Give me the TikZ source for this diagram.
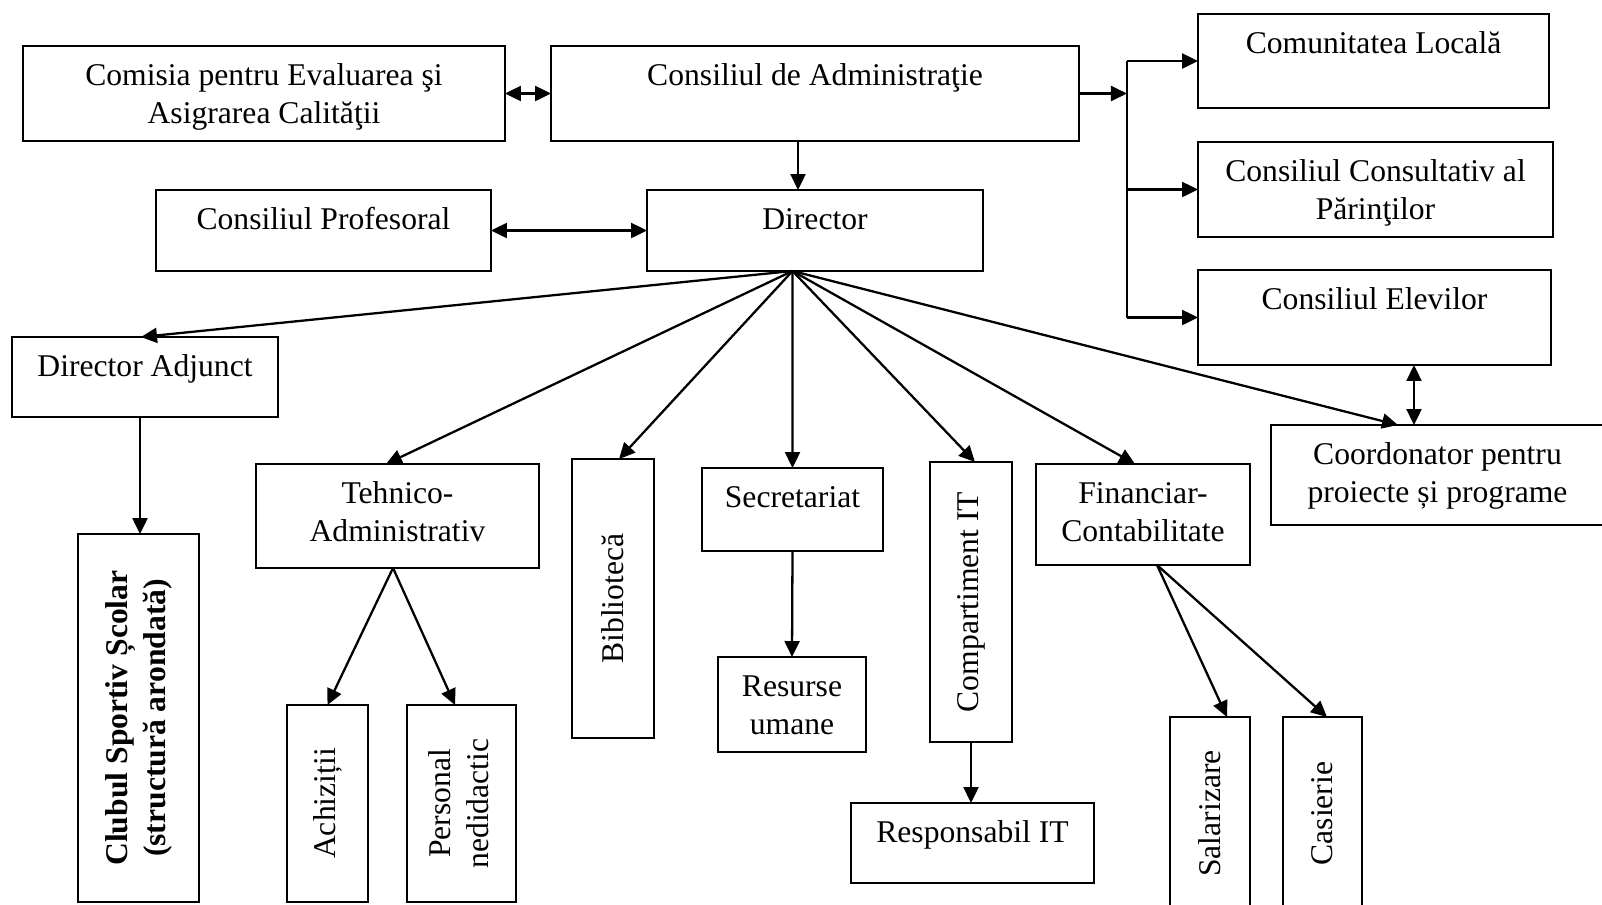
\documentclass[tikz,border=0pt]{standalone}
\usepackage{fontspec}
\setmainfont{Liberation Serif}
\usepackage{graphicx}
\usetikzlibrary{arrows.meta}

\begin{document}
\begin{tikzpicture}[x=0.02cm,y=-0.02cm,every node/.style={draw,outer sep=0pt,inner sep=0pt,line width=0.95pt,align=center,font=\fontsize{18}{21.6}\selectfont}]
\tikzstyle{box}=[text height=0.78cm]
\tikzstyle{box2}=[text height=1.54cm]
\tikzstyle{arr}=[line width=1.3pt,-{Triangle[length=0.32cm,width=0.3cm]}]
\tikzstyle{darr}=[line width=1.3pt,{Triangle[length=0.32cm,width=0.3cm]}-{Triangle[length=0.32cm,width=0.3cm]}]

\useasboundingbox (0,0) rectangle (1602,904);
\clip (0,0) rectangle (1602,904);

\node (cea) at (264,93.5) [box2,minimum width=9.64cm,text depth=0.36cm] {Comisia pentru Evaluarea şi\\Asigrarea Calităţii};
\node (ca) at (815,93.5) [box,minimum width=10.56cm,text depth=1.12cm] {Consiliul de Administraţie};
\node (cl) at (1373.5,61) [box,minimum width=7.02cm,text depth=1.1cm] {Comunitatea Locală};
\node (ccp) at (1375.5,189.5) [box2,minimum width=7.1cm,text depth=0.36cm] {Consiliul Consultativ al\\Părinţilor};
\node (ce) at (1374.5,317.5) [box,minimum width=7.06cm,text depth=1.12cm] {Consiliul Elevilor};
\node (cp) at (323.5,230.5) [box,minimum width=6.7cm,text depth=0.84cm] {Consiliul Profesoral};
\node (dir) at (815,230.5) [box,minimum width=6.72cm,text depth=0.84cm] {Director};
\node (da) at (145,377) [box,minimum width=5.32cm,text depth=0.82cm] {Director Adjunct};
\node (coord) at (1437.5,475) [box2,minimum width=6.66cm,text depth=0.46cm] {Coordonator pentru\\proiecte și programe};
\node (ta) at (397.5,516) [box2,minimum width=5.66cm,text depth=0.54cm] {Tehnico-\\Administrativ};
\node (sec) at (792.5,509.5) [box,minimum width=3.62cm,text depth=0.88cm] {Secretariat};
\node (ru) at (792,704.5) [box2,minimum width=2.96cm,text depth=0.36cm] {Resurse\\umane};
\node (rit) at (972.5,843) [box,minimum width=4.86cm,text depth=0.82cm] {Responsabil IT};
\node (fc) at (1143,514.5) [box2,minimum width=4.28cm,text depth=0.48cm] {Financiar-\\Contabilitate};

\node (bib) at (613,598.5) [minimum width=1.64cm,minimum height=5.58cm] {\rotatebox{90}{Bibliotecă}};
\node (cit) at (971,602) [minimum width=1.64cm,minimum height=5.6cm] {\rotatebox{90}{Compartiment IT}};
\node (css) at (138.5,718) [minimum width=2.42cm,minimum height=7.36cm] {\rotatebox{90}{\bfseries\begin{tabular}{@{}c@{}}Clubul Sportiv Școlar\\(structură arondată)\end{tabular}}};
\node (ach) at (327.5,803.5) [minimum width=1.62cm,minimum height=3.94cm] {\rotatebox{90}{Achiziții}};
\node (pn) at (461.5,803.5) [minimum width=2.18cm,minimum height=3.94cm] {\rotatebox{90}{\begin{tabular}{@{}c@{}}Personal\\nedidactic\end{tabular}}};
\node (sal) at (1210,813.5) [minimum width=1.6cm,minimum height=3.86cm] {\rotatebox{90}{Salarizare}};
\node (cas) at (1322.5,813.5) [minimum width=1.58cm,minimum height=3.86cm] {\rotatebox{90}{Casierie}};

\coordinate (dir_apex) at ([xshift=-0.45cm]dir.south);
\coordinate (bus) at ([xshift=0.96cm]ca.east);

\draw [darr] (cea.east) -- (ca.west);
\draw [arr] ([xshift=-0.34cm]ca.south) -- ([xshift=-0.34cm]dir.north);
\draw [darr] (cp.east) -- (dir.west);
\draw [arr] (ca.east) -- (bus);
\draw [line width=1.3pt] (bus |- cl.west) -- (bus |- ce.west);
\draw [arr] (bus |- cl.west) -- (cl.west);
\draw [arr] (bus |- ccp.west) -- (ccp.west);
\draw [arr] (bus |- ce.west) -- (ce.west);
\draw [darr] ([xshift=0.79cm]ce.south) -- ([xshift=0.79cm]ce.south |- coord.north);

\draw [arr] (dir_apex) -- ([xshift=-0.08cm]da.north);
\draw [arr] (dir_apex) -- ([xshift=-0.23cm]ta.north);
\draw [arr] (dir_apex) -- ([xshift=0.12cm]bib.north);
\draw [arr] (dir_apex) -- (sec.north);
\draw [arr] (dir_apex) -- ([xshift=0.08cm]cit.north);
\draw [arr] (dir_apex) -- ([xshift=-0.16cm]fc.north);
\draw [arr] (dir_apex) -- ([xshift=-0.79cm]coord.north);

\draw [arr] ([xshift=0.03cm]css.north |- da.south) -- ([xshift=0.03cm]css.north);
\draw [arr] ([xshift=-0.09cm]ta.south) -- (ach.north);
\draw [arr] ([xshift=-0.09cm]ta.south) -- ([xshift=-0.13cm]pn.north);
\draw [arr] (sec.south) -- (ru.north);
\draw [arr] (cit.south) -- (cit.south |- rit.north);
\draw [arr] ([xshift=0.28cm]fc.south) -- ([xshift=0.34cm]sal.north);
\draw [arr] ([xshift=0.28cm]fc.south) -- ([xshift=0.09cm]cas.north);

\end{tikzpicture}
\end{document}
